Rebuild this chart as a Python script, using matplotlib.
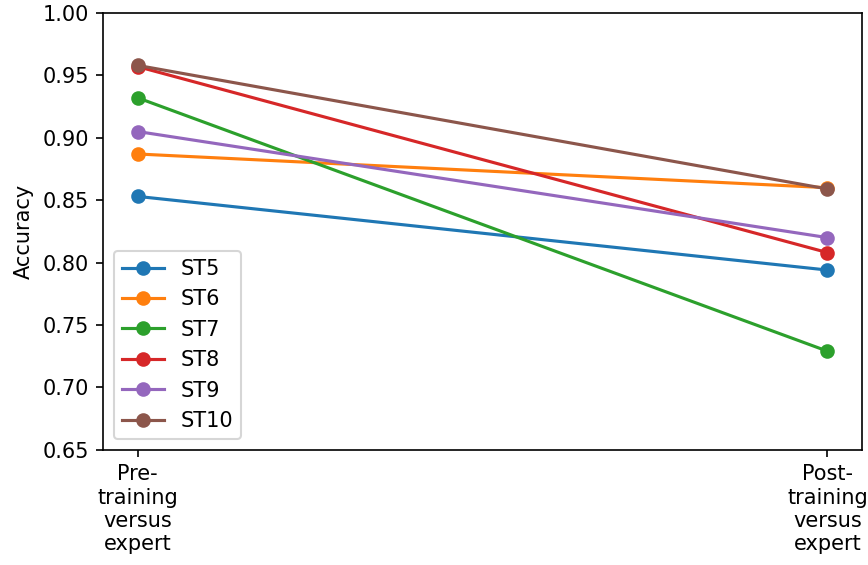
import matplotlib
matplotlib.use("Agg")
import matplotlib.pyplot as plt

categories = ["Pre-\ntraining\nversus\nexpert", "Post-\ntraining\nversus\nexpert"]
series_names = ["ST5", "ST6", "ST7", "ST8", "ST9", "ST10"]
st5 = [0.853, 0.794]
st6 = [0.887, 0.860]
st7 = [0.932, 0.729]
st8 = [0.957, 0.808]
st9 = [0.905, 0.820]
st10 = [0.958, 0.859]
values = [st5, st6, st7, st8, st9, st10]

DPI = 150
fig, ax = plt.subplots(figsize=(868 / DPI, 565 / DPI), dpi=DPI)
x = list(range(len(categories)))
for name, v in zip(series_names, values):
    ax.plot(x, v, marker="o", label=name)
ax.set_xticks(x)
ax.set_xticklabels(categories)
ax.set_ylim(0.65, 1.00)
ax.set_ylabel("Accuracy")
ax.legend(loc="lower left")
fig.subplots_adjust(left=0.119, right=0.993, top=0.977, bottom=0.204)
fig.savefig("out.png", dpi=DPI)
